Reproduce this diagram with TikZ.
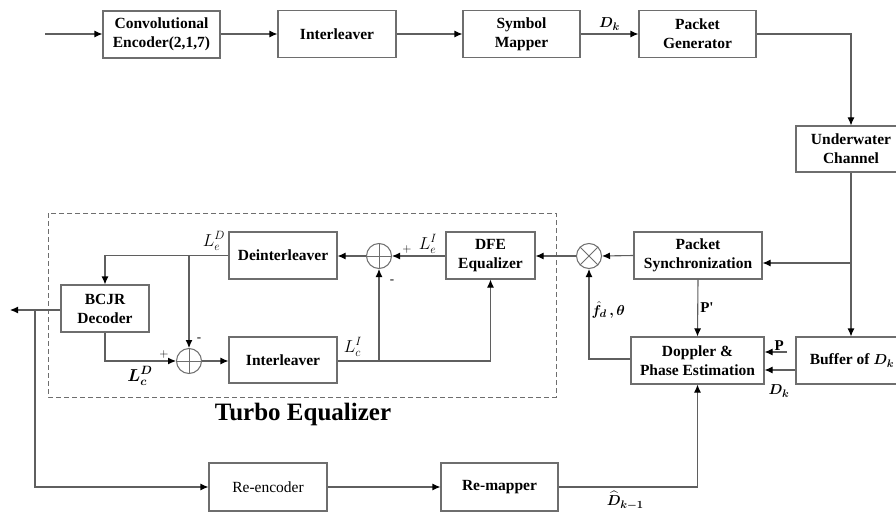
\documentclass[tikz,border=0pt]{standalone}
\usepackage{fontspec}
\setmainfont{Liberation Serif}
\usepackage{amsmath}
\usepackage{bm}
\usetikzlibrary{arrows.meta,calc}
\definecolor{boxgray}{RGB}{110,110,110}
\definecolor{linegray}{RGB}{95,95,95}
\begin{document}
\begin{tikzpicture}[x=1pt,y=-1pt,
  blk/.style={draw=boxgray,line width=1.1pt,minimum height=47pt,align=center,inner sep=0pt,
     font=\bfseries\fontsize{15.5}{19}\selectfont},
  sumc/.style={draw=boxgray,line width=1pt,circle,minimum size=25pt,inner sep=0pt},
  conn/.style={draw=linegray,line width=1.1pt},
  arr/.style={conn,-{Latex[color=black,length=8pt,width=7pt]}},
  lab/.style={inner sep=1pt,font=\fontsize{15}{17}\selectfont},
  llab/.style={inner sep=0pt,font=\fontsize{17.5}{19}\selectfont},
  sgn/.style={inner sep=0pt,font=\fontsize{13}{14}\selectfont}
]
\clip (0,0) rectangle (896,516);
\fill[white] (0,0) rectangle (896,516);

% top row
\node[blk,minimum width=117pt] (conv) at (161.5,34.5) {Convolutional\\Encoder(2,1,7)};
\node[blk,minimum width=118pt] (il1) at (337,34) {Interleaver};
\node[blk,minimum width=117pt] (sm) at (521.5,34) {Symbol\\Mapper};
\node[blk,minimum width=117pt] (pg) at (697.5,34) {Packet\\Generator};
\coordinate (in) at (45,34);
\coordinate (pgc) at (851,34);

% right column
\node[blk,minimum width=110pt,minimum height=46pt] (uc) at (851,149) {Underwater\\Channel};
\node[blk,minimum width=110pt] (buf) at (851,360.5) {\hspace*{2pt}Buffer of $\bm{D_k}$};
\node[blk,minimum width=128pt] (ps) at (698,255.5) {Packet\\Synchronization};
\node[blk,minimum width=133pt] (dpe) at (697.5,360.5) {Doppler \&\\Phase Estimation};
\node[sumc] (mult) at (589,256) {};
\draw[boxgray,line width=0.9pt] (mult.north west) -- (mult.south east) (mult.north east) -- (mult.south west);
\coordinate (br) at (851,263);
\coordinate (pin) at (787,352);

% turbo equalizer
\draw[boxgray,line width=1pt,dash pattern=on 5pt off 3pt] (48,213) rectangle (556,397);
\node[font=\bfseries\fontsize{25}{28}\selectfont,inner sep=0pt] (te) at (303,414) {Turbo Equalizer};
\node[blk,minimum width=89pt] (dfe) at (490.5,255.5) {DFE\\Equalizer};
\node[sumc] (sum2) at (379,256) {};
\node[blk,minimum width=108pt] (deil) at (283,255.5) {Deinterleaver};
\node[blk,minimum width=108pt,minimum height=46pt] (il2) at (283,360) {Interleaver};
\node[sumc] (sum1) at (189,361) {};
\foreach \c in {sum1,sum2}{
  \draw[boxgray,line width=0.9pt] (\c.north) -- (\c.south) (\c.west) -- (\c.east);}
\node[blk,minimum width=88pt] (bcjr) at (105,308.5) {BCJR\\Decoder};
\coordinate (out) at (10,310);
\coordinate (obr) at (35,310);

% bottom row
\node[blk,minimum width=118pt,minimum height=48pt,font=\fontsize{15.5}{19}\selectfont] (reenc) at (268,487) {Re-encoder};
\node[blk,minimum width=117pt,minimum height=48pt] (remap) at (499.5,487) {Re-mapper};

% connectors top
\draw[arr] (in) -- (conv.west |- in);
\draw[arr] (conv.east |- il1) -- (il1.west);
\draw[arr] (il1) -- (sm);
\draw[arr] (sm) -- node[lab,above=2pt] {$\bm{D_k}$} (pg);
\draw[arr] (pg.east) -- (pgc) -- (uc.north);

% right side
\draw[arr] (uc.south) -- (buf.north);
\draw[arr] (br) -- (br -| ps.east);
\draw[arr] (ps.west) -- (mult.east);
\draw[arr] (mult.west) -- (mult.west -| dfe.east);
\draw[arr] (ps.south) -- node[lab,right=1pt,font=\bfseries\fontsize{15}{16}\selectfont] {P\textquotesingle} (dpe.north);
\draw[arr] (dpe.west |- 0,359) -- (mult.south |- 0,359) -- node[lab,right=1pt,pos=0.55] {$\bm{\hat f_d\,,\theta}$} (mult.south);
\draw[arr] (pin) -- node[lab,above=0pt,pos=0.35,font=\bfseries\fontsize{15}{16}\selectfont] {P} (pin -| dpe.east);
\draw[arr] (buf.west |- 0,370) -- (dpe.east |- 0,370);
\node[lab] (dkb) at (779,391) {$\bm{D_k}$};

% bottom
\draw[arr] (reenc) -- (remap);
\draw[arr] (remap.east) -- node[lab,below=3pt,pos=0.48] {$\bm{\widehat D_{k-1}}$} (dpe.south |- remap.east) -- (dpe.south);
\draw[arr] (bcjr.west |- out) -- (out);
\draw[arr] (obr) -- (obr |- reenc) -- (reenc.west);

% turbo internals
\draw[arr] (deil.west) -- (bcjr.north |- deil.west) -- (bcjr.north);
\draw[arr] (sum1.north |- deil.west) -- (sum1.north);
\node[llab] (led) at (214,241) {$L_e^D$};
\draw[arr] (bcjr.south) -- (bcjr.south |- sum1) -- (sum1.west);
\node[sgn] at (164,354) {$+$};
\node[sgn] at (199,340) {-};
\node[llab] (lcd) at (140,376) {$\bm{L_c^D}$};
\draw[arr] (sum1.east) -- (il2.west |- sum1);
\draw[conn] (il2.east |- sum1) -- (dfe.south |- sum1);
\draw[arr] (dfe.south |- sum1) -- (dfe.south);
\draw[arr] (sum2.south |- sum1) -- (sum2.south);
\node[llab] (lci) at (353,347) {$L_c^I$};
\node[sgn] at (392,282) {-};
\draw[arr] (dfe.west |- sum2) -- (sum2.east);
\node[sgn] at (407,249) {$+$};
\node[llab] (lei) at (428,244) {$L_e^I$};
\draw[arr] (sum2.west) -- (deil.east |- sum2);
\end{tikzpicture}
\end{document}
